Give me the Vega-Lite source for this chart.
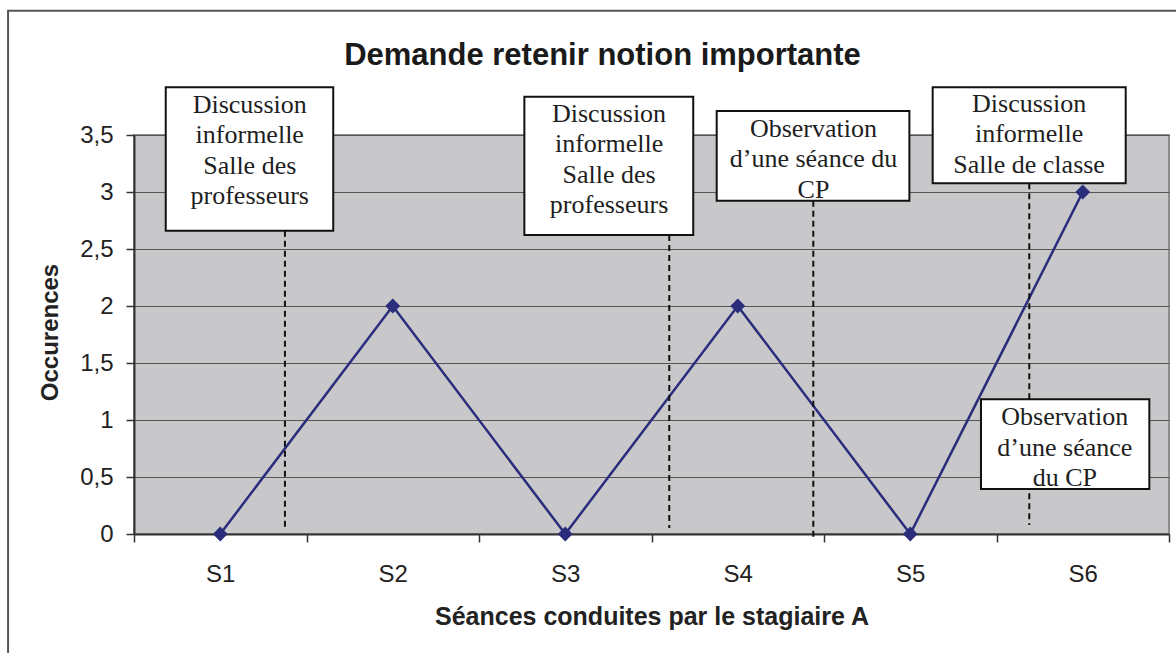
{
  "$schema": "https://vega.github.io/schema/vega-lite/v6.json",
  "width": 1035,
  "height": 399,
  "autosize": {"type": "none"},
  "padding": {"left": 134, "top": 135, "right": 7, "bottom": 119},
  "background": "white",
  "title": {
    "text": "Demande retenir notion importante",
    "font": "Liberation Sans",
    "fontSize": 31,
    "fontWeight": "bold",
    "color": "#1a1a1a",
    "anchor": "middle",
    "frame": "group",
    "dx": -49,
    "baseline": "alphabetic",
    "offset": -86
  },
  "config": {
    "view": {"fill": "#c8c8ca", "stroke": "#8c8c8c", "strokeWidth": 2},
    "font": "Liberation Sans"
  },
  "datasets": {
    "seances": [
      {"seance": 1, "occurences": 0},
      {"seance": 2, "occurences": 2},
      {"seance": 3, "occurences": 0},
      {"seance": 4, "occurences": 2},
      {"seance": 5, "occurences": 0},
      {"seance": 6, "occurences": 3}
    ],
    "boxes": [
      {"label": "Discussion\ninformelle\nSalle des\nprofesseurs", "x1": 0.684, "x2": 1.655, "ytop": 3.918, "ybot": 2.661, "tx": 1.171, "ty": 3.693},
      {"label": "Discussion\ninformelle\nSalle des\nprofesseurs", "x1": 2.763, "x2": 3.742, "ytop": 3.836, "ybot": 2.623, "tx": 3.254, "ty": 3.617},
      {"label": "Observation\nd’une séance du\nCP", "x1": 3.878, "x2": 4.995, "ytop": 3.711, "ybot": 2.924, "tx": 4.439, "ty": 3.485},
      {"label": "Discussion\ninformelle\nSalle de classe", "x1": 5.130, "x2": 6.249, "ytop": 3.918, "ybot": 3.076, "tx": 5.689, "ty": 3.704},
      {"label": "Observation\nd’une séance\ndu CP", "x1": 5.410, "x2": 6.386, "ytop": 1.182, "ybot": 0.395, "tx": 5.896, "ty": 0.956}
    ],
    "dashes": [
      {"x": 1.375, "y1": 2.661, "y2": 0.041},
      {"x": 3.603, "y1": 2.623, "y2": 0.053},
      {"x": 4.438, "y1": 2.924, "y2": -0.035},
      {"x": 5.690, "y1": 3.076, "y2": 0.079}
    ],
    "cadre": [
      {"x1": -0.23, "x2": 7.2, "ytop": 4.59, "ybot": -1.8}
    ]
  },
  "layer": [
    {
      "data": {"name": "seances"},
      "mark": {"type": "line", "color": "#2a2c7c", "strokeWidth": 2.5},
      "encoding": {
        "x": {
          "field": "seance",
          "type": "quantitative",
          "scale": {"domain": [0.5, 6.5], "nice": false, "zero": false},
          "axis": {
            "values": [0.5, 1, 1.5, 2, 2.5, 3, 3.5, 4, 4.5, 5, 5.5, 6, 6.5],
            "labelExpr": "datum.value % 1 == 0 ? 'S' + datum.value : ''",
            "tickOpacity": {"condition": {"test": "datum.value % 1 == 0", "value": 0}, "value": 1},
            "tickSize": 8,
            "tickColor": "#333333",
            "tickWidth": 1.5,
            "domainColor": "#333333",
            "domainWidth": 2,
            "grid": false,
            "labelFont": "Liberation Sans",
            "labelFontSize": 24,
            "labelColor": "#222222",
            "labelBaseline": "alphabetic",
            "labelPadding": 39,
            "labelOverlap": false,
            "labelFlush": false,
            "title": "Séances conduites par le stagiaire A",
            "titleFont": "Liberation Sans",
            "titleFontSize": 25,
            "titleFontWeight": "bold",
            "titleColor": "#222222",
            "titleBaseline": "alphabetic",
            "titleY": 90
          }
        },
        "y": {
          "field": "occurences",
          "type": "quantitative",
          "scale": {"domain": [0, 3.5], "nice": false, "zero": false},
          "axis": {
            "values": [0, 0.5, 1, 1.5, 2, 2.5, 3, 3.5],
            "labelExpr": "replace('' + datum.value, '.', ',')",
            "grid": true,
            "gridColor": "#555555",
            "gridWidth": 1,
            "tickSize": 8,
            "tickColor": "#333333",
            "tickWidth": 1.5,
            "domainColor": "#333333",
            "domainWidth": 2,
            "labelFont": "Liberation Sans",
            "labelFontSize": 24,
            "labelColor": "#222222",
            "labelPadding": 13,
            "title": "Occurences",
            "titleFont": "Liberation Sans",
            "titleFontSize": 24,
            "titleFontWeight": "bold",
            "titleColor": "#222222",
            "titleX": -84,
            "titleY": 197,
            "titleBaseline": "middle",
            "titleAlign": "center"
          }
        }
      }
    },
    {
      "data": {"name": "cadre"},
      "mark": {"type": "rect", "fill": "transparent", "stroke": "#555555", "strokeWidth": 2},
      "encoding": {
        "x": {"field": "x1", "type": "quantitative"},
        "x2": {"field": "x2"},
        "y": {"field": "ytop", "type": "quantitative"},
        "y2": {"field": "ybot"}
      }
    },
    {
      "data": {"name": "dashes"},
      "mark": {"type": "rule", "strokeDash": [6, 4], "strokeWidth": 2, "color": "#111111"},
      "encoding": {
        "x": {"field": "x", "type": "quantitative"},
        "y": {"field": "y1", "type": "quantitative"},
        "y2": {"field": "y2"}
      }
    },
    {
      "data": {"name": "seances"},
      "mark": {"type": "point", "shape": "diamond", "filled": true, "size": 220, "color": "#2a2c7c", "opacity": 1},
      "encoding": {
        "x": {"field": "seance", "type": "quantitative"},
        "y": {"field": "occurences", "type": "quantitative"}
      }
    },
    {
      "data": {"name": "boxes"},
      "mark": {"type": "rect", "fill": "white", "stroke": "#111111", "strokeWidth": 2},
      "encoding": {
        "x": {"field": "x1", "type": "quantitative"},
        "x2": {"field": "x2"},
        "y": {"field": "ytop", "type": "quantitative"},
        "y2": {"field": "ybot"}
      }
    },
    {
      "data": {"name": "boxes"},
      "mark": {"type": "text", "font": "Liberation Serif", "fontSize": 26, "lineBreak": "\n", "lineHeight": 30.5, "align": "center", "baseline": "alphabetic", "color": "#1e1e1e"},
      "encoding": {
        "x": {"field": "tx", "type": "quantitative"},
        "y": {"field": "ty", "type": "quantitative"},
        "text": {"field": "label"}
      }
    }
  ]
}
